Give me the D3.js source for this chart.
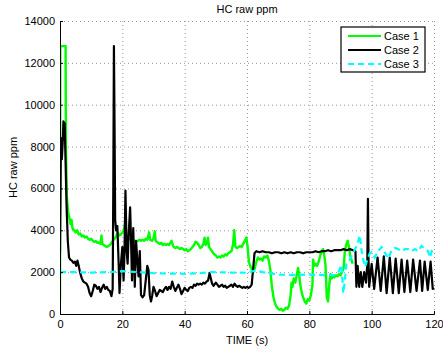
<!DOCTYPE html>
<html lang="en">
<head>
    <meta charset="UTF-8">
    <title>HC raw ppm</title>
    <script src="https://d3js.org/d3.v7.min.js"></script>
    <style>
        body {
            margin: 0;
            background: #fff;
            font-family: "Liberation Sans", Arial, sans-serif;
        }
        svg text { fill: #000; }
    </style>
</head>
<body>
    <div id="chart"></div>
    <script>
        // data: [time (s), HC raw ppm]
        const case1 = [[0,700],[0.1,12800],[1.8,12800],[1.9,8000],[2.2,5600],[2.6,4900],[3.0,4600],[3.4,4300],[3.7,4500],[4.0,4100],[4.5,4000],[5.0,3900],[5.5,4000],[6.0,3800],[6.5,3850],[7.0,3700],[7.5,3750],[8.0,3650],[8.5,3700],[9.0,3600],[9.5,3550],[10,3600],[10.5,3500],[11,3450],[11.5,3480],[12,3400],[12.5,3420],[13,3350],[13.3,3750],[13.6,3350],[14,3300],[14.5,3250],[15,3200],[15.5,3250],[16,3300],[16.5,3400],[17,3500],[17.5,3600],[18,3700],[18.5,3900],[19,3750],[19.5,3800],[20,3900],[20.5,4000],[20.8,4300],[21.1,3800],[21.5,3700],[22,3600],[22.5,3550],[23,3500],[23.5,3450],[24,3500],[24.5,3450],[25,3500],[25.5,3550],[26,3500],[26.5,3550],[27,3500],[27.5,3600],[28,3550],[28.6,3900],[28.9,3550],[29.5,3500],[30,3600],[30.4,3950],[30.7,3500],[31,3450],[31.5,3400],[32,3350],[32.5,3400],[33,3300],[33.5,3350],[34,3300],[34.5,3350],[35,3300],[35.8,3500],[36.2,3300],[36.5,3200],[37,3150],[37.5,3200],[38,3150],[38.5,3100],[39,3150],[39.5,3100],[40,3050],[40.5,3100],[41,3000],[41.5,3050],[42,3100],[42.5,3200],[43,3300],[43.5,3450],[44,3400],[44.5,3300],[45,3150],[45.5,3200],[46,3350],[46.4,3650],[46.7,3300],[47.2,3400],[47.5,3650],[47.8,3200],[48.3,3100],[49,2950],[49.5,2850],[50,2800],[50.5,2700],[51,2750],[51.5,2700],[52,2800],[52.5,2750],[53,2850],[53.5,2800],[54,2900],[54.5,2950],[55,3000],[55.5,3300],[55.9,4000],[56.3,3200],[56.8,3150],[57.3,3200],[57.8,3250],[58.3,3200],[58.8,3350],[59.3,3500],[59.8,3650],[60.2,3200],[60.6,2500],[61,2300],[61.5,2150],[62,2000],[62.5,2200],[63,2500],[63.5,2700],[64,2600],[64.5,2650],[65,2550],[65.5,2750],[66,2700],[66.5,2800],[67,2550],[67.5,2100],[68,1300],[68.5,800],[69,500],[69.5,350],[70,250],[70.5,200],[71,250],[71.5,150],[72,200],[72.5,300],[73,250],[73.5,400],[74,900],[74.3,1500],[74.6,1300],[75,1700],[75.5,1500],[76,1900],[76.4,2200],[76.8,1800],[77.2,1300],[77.6,1000],[78,800],[78.5,600],[79,500],[79.5,700],[80,650],[80.5,900],[81,1400],[81.2,2600],[81.6,2300],[82,2400],[82.5,2300],[83,2500],[83.5,2800],[84,3000],[84.4,3100],[84.8,2800],[85.2,2300],[85.6,800],[86,600],[86.4,1400],[86.8,1900],[87.2,1700],[87.6,1800],[88,1750],[88.5,1850],[89,1800],[89.5,1900],[90,1850],[90.5,2000],[91,2200],[91.4,3000],[91.8,3300],[92.3,3500],[92.7,3200],[93.1,2800],[93.5,2600],[93.9,2400]];

        const case2 = [[0,2900],[0.3,8400],[0.6,7400],[0.9,8300],[1.1,9200],[1.5,9100],[1.8,7200],[2.1,5200],[2.5,3500],[2.9,2700],[3.3,2600],[3.8,2550],[4.3,2450],[4.8,2500],[5.2,2300],[5.6,2550],[6.0,2300],[6.5,1950],[7.0,1700],[7.5,1550],[8.0,1500],[8.5,1450],[9.0,1300],[9.5,1000],[10,850],[10.5,1100],[11,1400],[11.5,1350],[12,1200],[12.5,1300],[13,1050],[13.5,1250],[14,1400],[14.5,1200],[15,1300],[15.5,1150],[16,1100],[16.5,850],[16.9,1200],[17.1,6000],[17.3,12800],[17.5,9000],[17.7,4500],[18,4000],[18.4,4200],[18.8,2500],[19.1,1000],[19.5,2300],[20,3200],[20.4,1600],[20.7,3000],[21,5900],[21.4,3000],[21.7,2400],[22,3700],[22.5,5100],[22.8,3500],[23.1,1600],[23.5,4100],[24,1300],[24.4,3500],[24.8,2600],[25.2,1800],[25.6,3000],[26,900],[26.5,800],[27,900],[27.5,1600],[28,2300],[28.4,2100],[28.8,900],[29.2,600],[29.6,900],[30,1300],[30.5,1100],[31,850],[31.5,1000],[32,1150],[32.5,1100],[33,1050],[33.5,1200],[34,1300],[34.5,1150],[35,1300],[35.5,1200],[36,1550],[36.5,1300],[37,1100],[37.5,1250],[38,1400],[38.5,1200],[39,950],[39.5,1100],[40,1250],[40.5,1150],[41,1100],[41.5,1250],[42,1300],[42.5,1250],[43,1400],[43.5,1350],[44,1450],[44.5,1400],[45,1450],[45.5,1400],[46,1500],[46.5,1450],[47,1550],[47.5,1600],[48,1950],[48.4,1700],[48.8,1450],[49.3,1350],[50,1500],[50.5,1400],[51,1300],[51.5,1350],[52,1400],[52.5,1300],[53,1350],[53.5,1250],[54,1300],[54.5,1350],[55,1400],[55.5,1300],[56,1450],[56.5,1350],[57,1300],[57.5,1350],[58,1300],[58.5,1250],[59,1300],[59.5,1250],[60,1300],[60.5,1250],[61,1300],[61.5,1400],[62,2200],[62.4,2900],[63,3000],[64,2950],[65,3000],[66,2950],[67,2950],[68,2900],[69,2950],[70,2950],[71,2900],[72,2950],[73,2900],[74,2950],[75,2900],[76,2950],[77,2950],[78,2900],[79,2950],[80,2950],[81,2950],[82,3000],[83,2950],[84,3000],[85,3000],[86,3050],[87,3000],[88,3050],[89,3050],[90,3050],[91,3100],[92,3050],[93,3100],[94,3050],[94.8,3000],[95.1,1300],[95.5,2300],[96,1300],[96.5,2000],[97,1300],[97.6,2000],[98.2,1500],[98.6,2400],[98.8,5500],[99,2500],[99.2,1300],[100,2400],[100.8,1200],[101.9,2700],[102.9,1100],[103.9,2750],[104.8,1000],[105.8,2700],[106.8,1000],[107.7,2650],[108.7,1000],[109.6,2600],[110.5,1050],[111.4,2550],[112.4,1050],[113.3,2600],[114.4,1100],[115.5,2550],[116.2,1100],[117,2500],[118,1150],[118.9,2500],[119.6,1200],[120,1250]];

        const case3 = [[0,2000],[5,2000],[10,1980],[15,2000],[18,2020],[20,2050],[25,2000],[30,1950],[35,1930],[40,1920],[45,1950],[48,2000],[50,2000],[55,1980],[60,1970],[62,2050],[63,2080],[65,2000],[70,1880],[75,1870],[80,1880],[85,1860],[88,1860],[89.5,2050],[90.3,2350],[90.9,1000],[91.4,1600],[91.9,2400],[93,2600],[94,2900],[95,3200],[95.6,3450],[96.2,3750],[96.8,3000],[97.3,2600],[97.9,2250],[98.5,2550],[99.4,2900],[100,2950],[101,2700],[102,3000],[103.2,3200],[104.2,2950],[105.3,2650],[106.4,3050],[107.5,3150],[108.5,3100],[109.6,3000],[110.7,3100],[111.7,3100],[112.8,3000],[113.9,3100],[114.9,3000],[116,3250],[117.1,3100],[118.1,3000],[118.7,2700],[119.6,3150],[120,3150]];

        const seriesNames = ["Case 1", "Case 2", "Case 3"];
        const xTicks = [0, 20, 40, 60, 80, 100, 120];
        const yTicks = [0, 2000, 4000, 6000, 8000, 10000, 12000, 14000];

        const width = 443, height = 354;
        const margin = {left: 60, top: 21, right: 9, bottom: 40};
        const iw = width - margin.left - margin.right;
        const ih = height - margin.top - margin.bottom;

        const svg = d3.select("#chart").append("svg")
            .attr("width", width)
            .attr("height", height);

        const x = d3.scaleLinear().domain([0, 120]).range([0, iw]);
        const y = d3.scaleLinear().domain([0, 14000]).range([ih, 0]);

        const g = svg.append("g").attr("transform", `translate(${margin.left},${margin.top})`);

        // dotted grid
        g.append("g").selectAll("line").data(xTicks).enter().append("line")
            .attr("x1", d => x(d) + 0.5).attr("x2", d => x(d) + 0.5)
            .attr("y1", 0).attr("y2", ih)
            .attr("stroke", "#999").attr("stroke-dasharray", "1,3");
        g.append("g").selectAll("line").data(yTicks).enter().append("line")
            .attr("x1", 0).attr("x2", iw)
            .attr("y1", d => y(d) + 0.5).attr("y2", d => y(d) + 0.5)
            .attr("stroke", "#999").attr("stroke-dasharray", "1,3");

        g.append("clipPath").attr("id", "clip").append("rect")
            .attr("x", 0).attr("y", -2).attr("width", iw + 1).attr("height", ih + 2);

        const line = d3.line().x(d => x(d[0])).y(d => y(d[1]));
        const plot = g.append("g").attr("clip-path", "url(#clip)");

        plot.append("path").datum(case1)
            .attr("d", line).attr("fill", "none")
            .attr("stroke", "#00ff00").attr("stroke-width", 2.4).attr("stroke-linejoin", "round");
        plot.append("path").datum(case2)
            .attr("d", line).attr("fill", "none")
            .attr("stroke", "#000").attr("stroke-width", 2.2).attr("stroke-linejoin", "round");
        plot.append("path").datum(case3)
            .attr("d", line).attr("fill", "none")
            .attr("stroke", "#00ffff").attr("stroke-width", 2.2).attr("stroke-dasharray", "6,4");

        // axes
        const xAxis = g.append("g").attr("transform", `translate(0,${ih})`)
            .call(d3.axisBottom(x).tickValues(xTicks).tickSize(-3).tickPadding(6).tickFormat(d3.format("d")));
        const yAxis = g.append("g")
            .call(d3.axisLeft(y).tickValues(yTicks).tickSize(-3).tickPadding(5).tickFormat(d3.format("d")));
        [xAxis, yAxis].forEach(a => {
            a.select(".domain").attr("stroke", "#000");
            a.selectAll(".tick line").attr("stroke", "#000");
            a.selectAll("text").attr("font-size", 11).attr("font-family", "Liberation Sans, Arial, sans-serif");
        });

        // title and labels
        svg.append("text").attr("x", margin.left + iw / 2).attr("y", 13)
            .attr("text-anchor", "middle").attr("font-size", 11).text("HC raw ppm");
        svg.append("text").attr("x", margin.left + iw / 2).attr("y", 344)
            .attr("text-anchor", "middle").attr("font-size", 11).text("TIME (s)");
        svg.append("text").attr("transform", `translate(17,${margin.top + ih / 2}) rotate(-90)`)
            .attr("text-anchor", "middle").attr("font-size", 11).text("HC raw ppm");

        // legend
        const legend = svg.append("g").attr("transform", "translate(341,27)");
        legend.append("rect").attr("width", 84).attr("height", 45)
            .attr("fill", "#fff").attr("stroke", "#000").attr("stroke-width", 1.2);
        const legendStyle = [
            {color: "#00ff00", dash: null},
            {color: "#000", dash: null},
            {color: "#00ffff", dash: "6,4"}
        ];
        seriesNames.forEach((name, i) => {
            const ly = 9 + i * 14;
            legend.append("line").attr("x1", 7).attr("x2", 40).attr("y1", ly).attr("y2", ly)
                .attr("stroke", legendStyle[i].color).attr("stroke-width", 2)
                .attr("stroke-dasharray", legendStyle[i].dash);
            legend.append("text").attr("x", 43).attr("y", ly + 4)
                .attr("font-size", 11).text(name);
        });
    </script>
</body>
</html>
